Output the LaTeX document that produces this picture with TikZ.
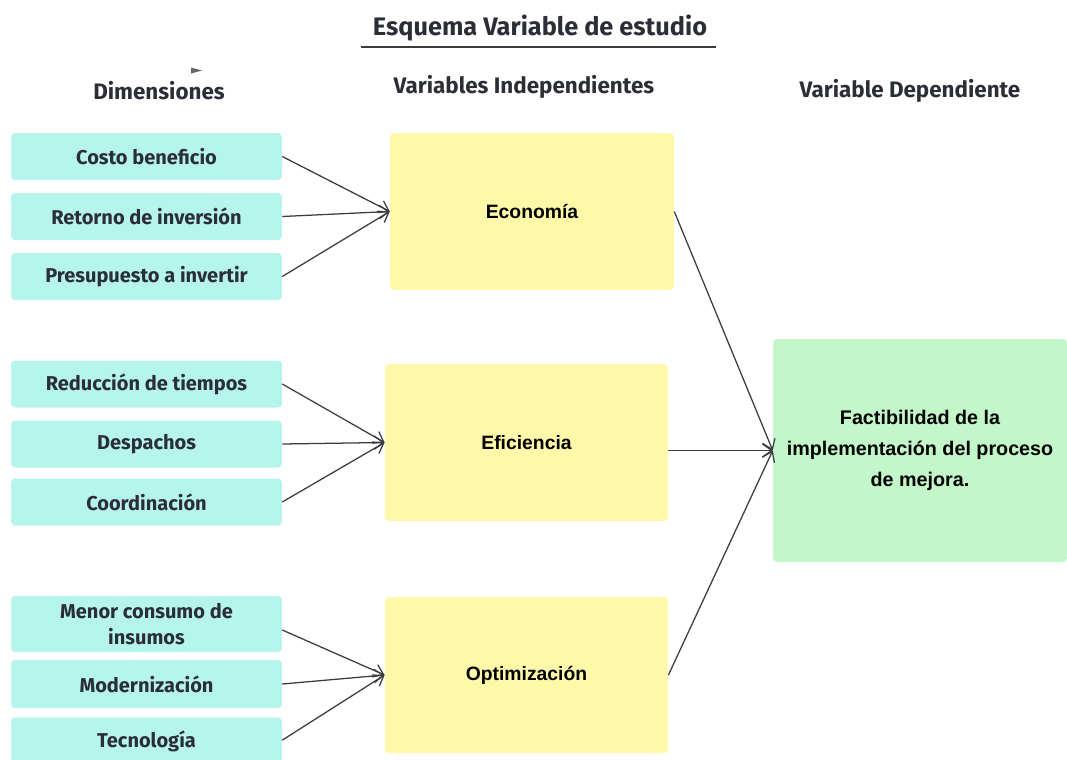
\documentclass[tikz,border=0pt]{standalone}
\usepackage{fontspec}
\setmainfont{Liberation Sans}
\newfontfamily\robfont{Fira Sans}
\usetikzlibrary{arrows.meta}
\definecolor{tealbox}{HTML}{B5F5EC}
\definecolor{yellbox}{HTML}{FFF8A8}
\definecolor{greenbox}{HTML}{C3F7C9}
\definecolor{txtdark}{HTML}{2B2E36}
\definecolor{linegray}{HTML}{3A3C42}
\begin{document}
\begin{tikzpicture}[x=0.75pt,y=-0.75pt,
  dimbox/.style={fill=tealbox,rounded corners=3pt,minimum width=203.25pt,minimum height=35.25pt,inner sep=0pt,
    font=\robfont\bfseries\fontsize{15}{19}\selectfont,text=txtdark,align=center},
  varbox/.style={fill=yellbox,rounded corners=3pt,minimum width=212.5pt,minimum height=117.5pt,inner sep=0pt,
    font=\bfseries\fontsize{14.5}{17}\selectfont,text=black,align=center},
  depbox/.style={fill=greenbox,rounded corners=3pt,minimum width=220.5pt,minimum height=167.25pt,inner sep=0pt,
    font=\bfseries\fontsize{14.8}{23}\selectfont,text=black,align=center},
  head/.style={font=\robfont\bfseries\fontsize{16.8}{18}\selectfont,text=txtdark},
  conn/.style={draw=linegray,line width=0.95pt,-{Straight Barb[length=7pt,width=10pt]}}
]
\useasboundingbox (0,0) rectangle (1067,760);
% title
\node[font=\robfont\bfseries\fontsize{19}{21}\selectfont,text=txtdark] (title) at (540,28) {Esquema Variable de estudio};
\coordinate (ul1) at (361,47);
\coordinate (ul2) at (716,47);
\draw[draw=linegray,line width=1.1pt] (ul1) -- (ul2);
% headers
\node[head] (h1) at (159,91) {Dimensiones};
\node[head] (h2) at (524,87) {Variables Independientes};
\node[head] (h3) at (910,91) {Variable Dependiente};
\fill[gray!80!black] (191,67.5) -- (202,70.5) -- (191,73.5) -- cycle;
% dimension boxes
\node[dimbox] (d1) at (146.5,156.5) {Costo beneficio};
\node[dimbox] (d2) at (146.5,216.5) {Retorno de inversión};
\node[dimbox] (d3) at (146.5,276.5) {Presupuesto a invertir};
\node[dimbox] (d4) at (146.5,384) {Reducción de tiempos};
\node[dimbox] (d5) at (146.5,444) {Despachos};
\node[dimbox] (d6) at (146.5,502) {Coordinación};
\node[dimbox,minimum height=42pt] (d7) at (146.5,624) {Menor consumo de\\insumos};
\node[dimbox,minimum height=36pt] (d8) at (146.5,684) {Modernización};
\node[dimbox,minimum height=36pt] (d9) at (146.5,741.5) {Tecnología};
% variable boxes
\node[varbox,minimum width=213pt] (v1) at (532,211.5) {Economía};
\node[varbox] (v2) at (526.5,442.5) {Eficiencia};
\node[varbox,minimum height=117pt] (v3) at (526.5,675) {Optimización};
% dependent
\node[depbox] (dep) at (920,450.5) {Factibilidad de la\\implementación del proceso\\de mejora.};
% connectors
\draw[conn] (d1.east) -- (v1.west);
\draw[conn] (d2.east) -- (v1.west);
\draw[conn] (d3.east) -- (v1.west);
\draw[conn] (d4.east) -- (v2.west);
\draw[conn] (d5.east) -- (v2.west);
\draw[conn] (d6.east) -- (v2.west);
\draw[conn] ([yshift=-4.5pt]d7.east) -- (v3.west);
\draw[conn] (d8.east) -- (v3.west);
\draw[conn] ([yshift=1pt]d9.east) -- (v3.west);
\draw[conn] (v1.east) -- (dep.west);
\draw[conn] ([yshift=-6pt]v2.east) -- (dep.west);
\draw[conn] (v3.east) -- (dep.west);
\end{tikzpicture}
\end{document}
